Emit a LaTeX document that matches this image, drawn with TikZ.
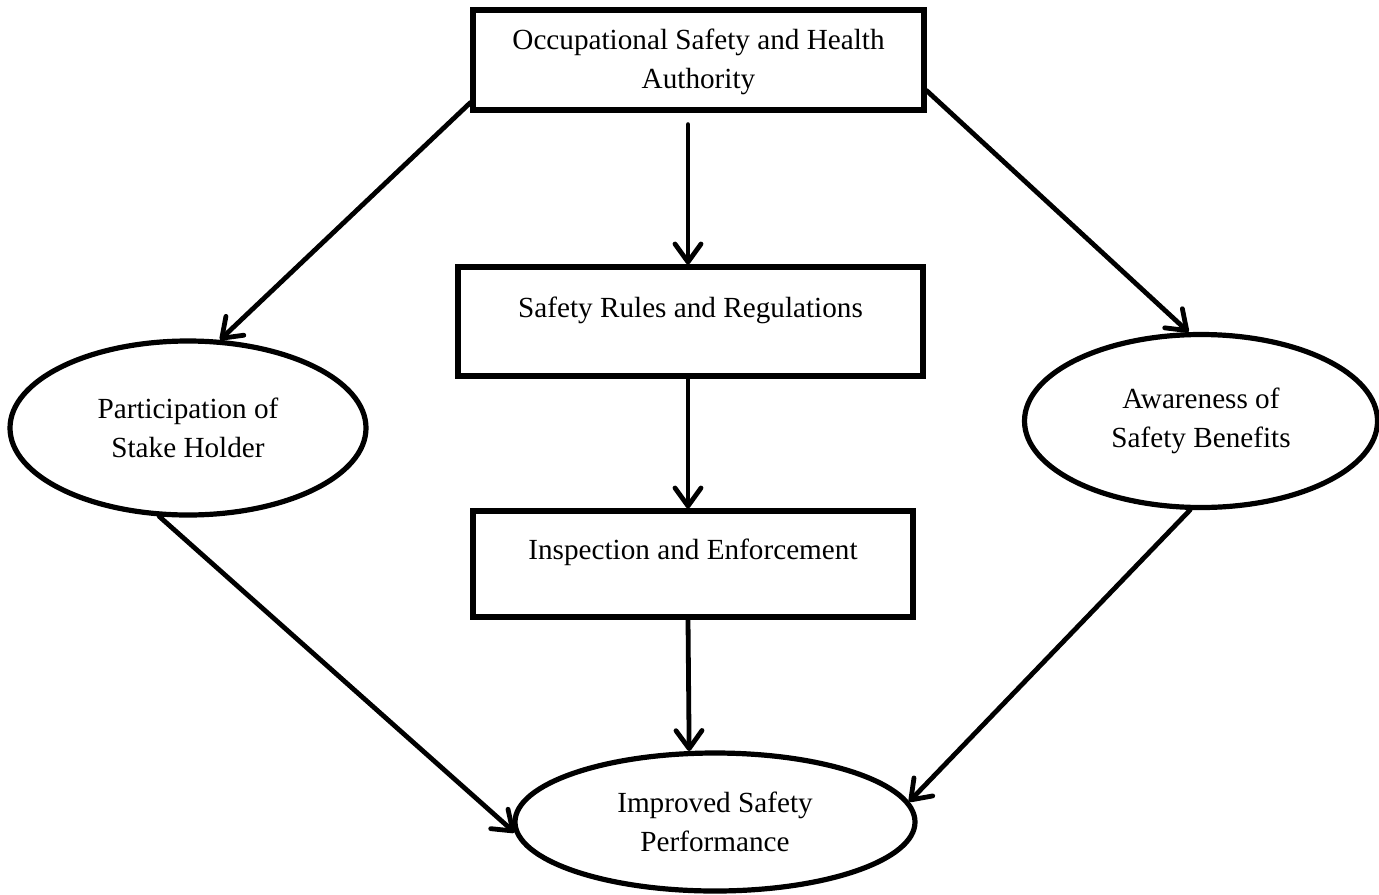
\documentclass[tikz,border=0pt]{standalone}
\usepackage{fontspec}
\setmainfont{Liberation Serif}
\usetikzlibrary{shapes.geometric,arrows.meta}
\begin{document}
\begin{tikzpicture}[x=0.5pt,y=-0.5pt,
  font=\fontsize{14.6pt}{19.5pt}\selectfont,
  boxnode/.style={draw, line width=2.6pt, rectangle, inner sep=0pt},
  ellnode/.style={draw, line width=2.6pt, ellipse, inner sep=0pt, align=center},
  txt/.style={align=center, inner sep=0pt},
  arr/.style={line width=2.4pt, line cap=round, -{Straight Barb[length=9pt,width=13pt,round]}}]
\useasboundingbox[fill=white] (0,0) rectangle (1379,894);

% boxes
\node[boxnode, minimum width=225.5pt, minimum height=50pt] (top) at (698.5,60) {};
\node[txt] (topt) at (698.5,62) {Occupational Safety and Health\\Authority};
\node[boxnode, minimum width=232.5pt, minimum height=54.5pt] (b1) at (690.5,321.5) {};
\node[txt] (b1t) at (690.5,310) {Safety Rules and Regulations};
\node[boxnode, minimum width=220pt, minimum height=53pt] (b2) at (693,564) {};
\node[txt] (b2t) at (693,552) {Inspection and Enforcement};

% ellipses
\node[ellnode, minimum width=178pt, minimum height=87pt] (lft) at (188,428) {Participation of\\Stake Holder};
\node[ellnode, minimum width=176.5pt, minimum height=86.5pt] (rgt) at (1201,421) {Awareness of\\Safety Benefits};
\node[ellnode, minimum width=200pt, minimum height=69pt] (bot) at (715,822) {Improved Safety\\Performance};

% connectors
\draw[arr] ([xshift=-5.25pt,yshift=-6pt]top.south) -- ([xshift=-1.25pt]b1.north);
\draw[arr] ([xshift=-1.25pt]b1.south) -- ([xshift=-2.5pt]b2.north);
\draw[arr] ([xshift=-2.5pt]b2.south) -- (bot.110);
\draw[arr] ([yshift=5pt]top.south west) -- (lft.70);
\draw[arr] ([yshift=11pt]top.south east) -- (rgt.98);
\draw[arr] (lft.252) -- (bot.183);
\draw[arr] (rgt.263) -- (bot.6);
\end{tikzpicture}
\end{document}
